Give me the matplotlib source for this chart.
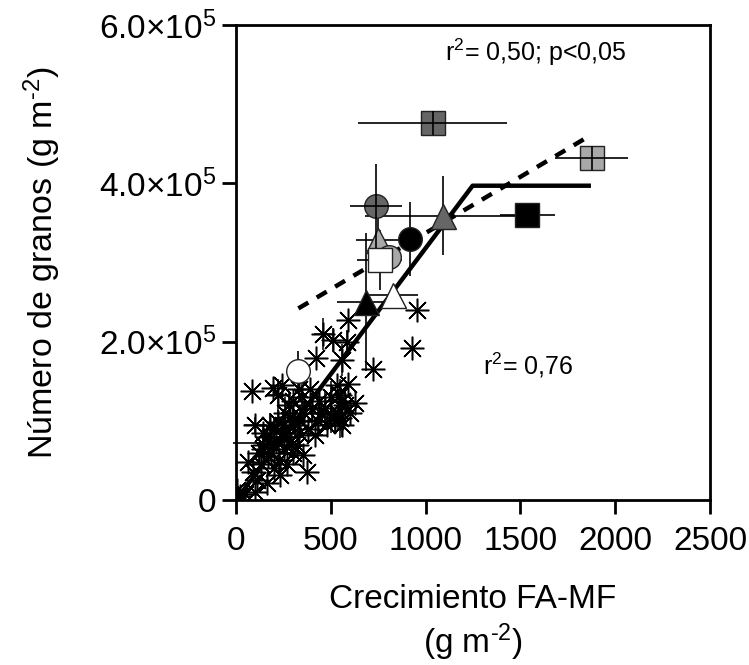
import matplotlib
matplotlib.use("Agg")
import matplotlib.pyplot as plt
import numpy as np

plt.rcParams['font.family'] = ['Liberation Sans', 'DejaVu Sans']
plt.rcParams['mathtext.fontset'] = 'custom'
plt.rcParams['mathtext.rm'] = 'Liberation Sans'
plt.rcParams['mathtext.it'] = 'Liberation Sans'

# ---- data: individual observations (asterisks) ----
ast_x = [4, 20, 50, 100, 65, 90, 110, 130, 145, 162, 162, 170, 185, 195, 200, 210, 225, 232,
         240, 250, 255, 270, 285, 290, 300, 310, 320, 330, 340, 355, 360, 373, 380, 400, 417,
         430, 450, 469, 480, 500, 520, 531, 540, 549, 549, 560, 575, 592, 628, 83, 100, 197,
         223, 223, 241, 422, 461, 513, 557, 587, 592, 724, 927, 953, 150, 180, 260, 280, 300,
         350, 330, 120, 140, 200, 270, 300, 390, 440, 500, 560, 600]
ast_y = [13, 5, 8, 10, 48, 35, 25, 45, 65, 21, 80, 55, 60, 70, 90, 75, 50, 32,
         85, 95, 65, 80, 105, 70, 60, 95, 70, 85, 100, 57, 110, 36, 90, 115, 82,
         100, 110, 116, 95, 105, 100, 145, 110, 103, 133, 95, 120, 147, 122, 138, 95, 141,
         99, 133, 145, 180, 210, 202, 177, 200, 227, 166, 192, 240, 70, 95, 110, 120, 125,
         130, 140, 60, 85, 40, 45, 100, 140, 125, 130, 125, 110]
ast_y = [v * 1000 for v in ast_y]
ast_yerr = [0, 0, 0, 0, 0, 0, 0, 0, 10, 0, 15, 0, 0, 12, 15, 0, 20, 0,
            15, 20, 0, 15, 20, 0, 0, 15, 0, 20, 20, 0, 15, 0, 0, 20, 0,
            20, 15, 20, 0, 20, 15, 0, 20, 25, 20, 15, 20, 0, 0, 0, 10, 0,
            15, 20, 0, 0, 20, 15, 20, 15, 0, 0, 0, 0, 15, 15, 20, 15, 0,
            20, 15, 10, 10, 0, 0, 15, 0, 15, 20, 15, 0]
ast_yerr = [v * 1000 for v in ast_yerr]
ast_xerr = [0, 0, 0, 0, 0, 0, 0, 30, 0, 0, 40, 0, 0, 40, 0, 0, 0, 0,
            40, 0, 0, 60, 0, 0, 0, 0, 0, 0, 50, 0, 0, 0, 0, 0, 40,
            0, 0, 0, 0, 0, 0, 0, 0, 0, 0, 0, 0, 0, 0, 0, 60, 0,
            0, 50, 0, 0, 50, 0, 0, 0, 0, 0, 0, 0, 0, 0, 0, 0, 0,
            0, 0, 0, 0, 0, 0, 0, 0, 0, 0, 0, 0]

# ---- data: treatment means ----
tr_x = [1037, 1876, 1536, 738, 1090, 919, 747, 808, 759, 830, 686, 325, 60]
tr_y = [476e3, 432e3, 360e3, 371e3, 359e3, 330e3, 328e3, 307e3, 303e3, 259e3, 250e3, 163e3, 72e3]
tr_xerr = [395, 193, 145, 136, 410, 0, 114, 0, 119, 130, 155, 30, 75]
tr_yerr = [15e3, 15e3, 0, 53e3, 50e3, 47e3, 30e3, 0, 38e3, 0, 87e3, 25e3, 0]
tr_marker = ['s', 's', 's', 'o', '^', 'o', '^', 'o', 's', '^', '^', 'o', None]
tr_color = ['#666666', '#a8a8a8', 'black', '#666666', '#666666', 'black', '#a8a8a8',
            '#a8a8a8', 'white', 'white', 'black', 'white', None]
tr_err_on_top = [True, True, False, True, False, False, False, False, False, False, False, False, False]

# ---- fitted lines ----
seg_x = [0, 1248, 1872]
seg_y = [0, 397e3, 397e3]
dash_x = [329, 1858]
dash_y = [242e3, 459e3]

yticks = [0, 2e5, 4e5, 6e5]
ytick_labels = ['0', '2.0×10$^{5}$', '4.0×10$^{5}$', '6.0×10$^{5}$']
xticks = [0, 500, 1000, 1500, 2000, 2500]

fig = plt.figure(figsize=(7.49, 6.65), dpi=100)
ax = fig.add_axes([0.3151, 0.2481, 0.6328, 0.7143])

# asterisks with error bars
ax.errorbar(ast_x, ast_y, yerr=ast_yerr, xerr=ast_xerr, fmt='none', ecolor='black',
            elinewidth=1.1, capsize=0, zorder=2)
ax.plot(ast_x, ast_y, linestyle='none', marker=(8, 2, 0), markersize=17,
        markeredgewidth=1.1, color='black', zorder=3)

# fitted lines
ax.plot(seg_x, seg_y, color='black', linewidth=3.2, zorder=4, solid_capstyle='butt')
ax.plot(dash_x, dash_y, color='black', linewidth=3.2, dashes=(2.6, 2.2), zorder=4)

# treatment means
for x, y, xe, ye, m, c, top in zip(tr_x, tr_y, tr_xerr, tr_yerr, tr_marker, tr_color, tr_err_on_top):
    ax.errorbar([x], [y], xerr=[xe] if xe else None, yerr=[ye] if ye else None, fmt='none',
                ecolor='black', elinewidth=1.2, capsize=0, zorder=7 if top else 5,
                clip_on=False)
    if m is not None:
        ax.plot([x], [y], linestyle='none', marker=m, markersize=17 if m != '^' else 18,
                markerfacecolor=c, markeredgecolor='#222222', markeredgewidth=1.0, zorder=6)

ax.set_xlim(0, 2500)
ax.set_ylim(0, 6e5)
ax.set_xticks(xticks)
ax.set_xticklabels([str(t) for t in xticks])
ax.set_yticks(yticks)
ax.set_yticklabels(ytick_labels)
ax.tick_params(axis='both', direction='out', length=10, width=2, labelsize=24)
ax.tick_params(axis='x', pad=9)
ax.tick_params(axis='y', pad=4)

for s in ax.spines.values():
    s.set_linewidth(2)

ax.text(1102, 565e3, 'r$^{2}$= 0,50; p<0,05', fontsize=18, va='center', ha='left')
ax.text(1303, 170e3, 'r$^{2}$= 0,76', fontsize=18, va='center', ha='left')

ax.set_xlabel('Crecimiento FA-MF\n(g m$^{\\text{-}2}$)', fontsize=24, linespacing=1.2, labelpad=19)
ax.set_ylabel('Número de granos (g m$^{\\text{-}2}$)', fontsize=24.5, labelpad=26)

fig.savefig('out.png', dpi=100)
